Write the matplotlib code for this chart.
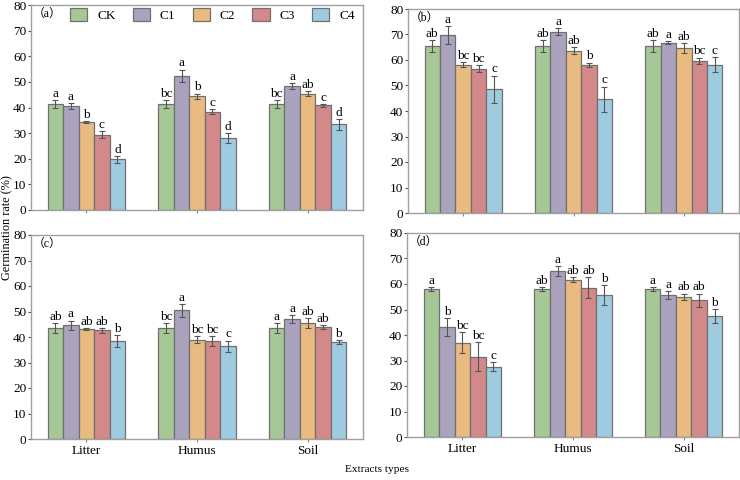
import matplotlib
matplotlib.use("Agg")
import matplotlib.pyplot as plt
import numpy as np
from matplotlib.patches import Patch

plt.rcParams['font.family'] = ['Liberation Serif', 'Noto Sans CJK SC', 'DejaVu Sans']

groups = ["Litter", "Humus", "Soil"]
treatments = ["CK", "C1", "C2", "C3", "C4"]
colors = ["#a6c896", "#aba2be", "#e9bb80", "#d3888a", "#9fcbe0"]

# values[treatment][group]
a_vals = [[41.4, 41.4, 41.4], [40.6, 52.3, 48.4], [34.3, 44.4, 45.4], [29.4, 38.4, 40.8], [19.8, 28.0, 33.4]]
a_err = [[1.5, 1.5, 1.5], [1.0, 2.5, 1.2], [0.5, 1.0, 1.0], [1.3, 1.0, 0.5], [1.3, 2.0, 2.0]]
a_let = [["a", "bc", "bc"], ["a", "a", "a"], ["b", "b", "ab"], ["c", "c", "c"], ["d", "d", "d"]]

b_vals = [[65.6, 65.6, 65.6], [69.7, 71.1, 66.7], [58.2, 63.7, 64.6], [56.6, 58.2, 59.6], [48.6, 44.6, 58.2]]
b_err = [[2.3, 2.3, 2.3], [3.5, 1.3, 0.6], [1.0, 1.3, 2.0], [1.5, 0.8, 1.3], [5.3, 5.0, 3.0]]
b_let = [["ab", "ab", "ab"], ["a", "a", "a"], ["bc", "ab", "ab"], ["bc", "b", "bc"], ["c", "c", "c"]]

c_vals = [[43.5, 43.5, 43.5], [44.6, 50.5, 47.0], [43.1, 39.0, 45.4], [42.6, 38.4, 43.9], [38.4, 36.4, 38.0]]
c_err = [[2.0, 2.0, 2.0], [1.8, 2.5, 1.6], [0.5, 1.3, 2.0], [1.0, 2.0, 0.8], [2.3, 2.2, 0.7]]
c_let = [["ab", "bc", "a"], ["a", "a", "a"], ["ab", "bc", "ab"], ["ab", "bc", "ab"], ["b", "c", "b"]]

d_vals = [[58.0, 58.0, 58.0], [43.1, 65.1, 55.6], [37.0, 61.6, 55.0], [31.5, 58.6, 53.6], [27.5, 55.7, 47.5]]
d_err = [[0.8, 0.8, 0.8], [3.6, 2.0, 1.6], [4.2, 1.0, 1.2], [5.8, 4.1, 2.6], [1.8, 3.9, 2.7]]
d_let = [["a", "ab", "a"], ["b", "a", "a"], ["bc", "ab", "ab"], ["bc", "ab", "ab"], ["c", "b", "b"]]

panels = [
    ("（a）", a_vals, a_err, a_let, [31, 5, 363, 210], False),
    ("（b）", b_vals, b_err, b_let, [408, 9, 739, 213], False),
    ("（c）", c_vals, c_err, c_let, [31, 235, 363, 439], True),
    ("（d）", d_vals, d_err, d_let, [407, 233, 739, 437], True),
]

W, H = 740, 480
fig = plt.figure(figsize=(W / 100, H / 100), dpi=100)
spine_col = "#a0a0a0"
edge_col = "#707070"
bw = 0.14
x = np.arange(len(groups))
fs = 9.5

axes = []
for label, vals, errs, lets, (l, t, r, b), show_x in panels:
    ax = fig.add_axes([l / W, 1 - b / H, (r - l) / W, (b - t) / H])
    axes.append(ax)
    for i in range(len(treatments)):
        xs = x + (i - 2) * bw
        ax.bar(xs, vals[i], width=bw, color=colors[i], edgecolor=edge_col,
               linewidth=0.9, label=treatments[i], zorder=2)
        ax.errorbar(xs, vals[i], yerr=errs[i], fmt='none', ecolor="#555555",
                    elinewidth=0.8, capsize=2, capthick=0.8, zorder=3)
        for j in range(len(groups)):
            ax.text(xs[j], vals[i][j] + errs[i][j] + 0.1, lets[i][j],
                    ha='center', va='bottom', fontsize=fs)
    ax.set_xlim(-0.5, 2.5)
    ax.set_ylim(0, 80)
    ax.set_yticks(np.arange(0, 81, 10))
    ax.set_xticks(x)
    if show_x:
        ax.set_xticklabels(groups, fontsize=fs)
    else:
        ax.set_xticklabels([])
    ax.tick_params(axis='y', labelsize=fs, direction='out', length=2.5,
                   color="#555555", pad=0.8)
    ax.tick_params(axis='x', direction='out', length=2, color="#888888", pad=2.5)
    for s in ax.spines.values():
        s.set_color(spine_col)
        s.set_linewidth(1.0)
    ax.text(0.006, 0.985, label, transform=ax.transAxes, ha='left', va='top', fontsize=8.5)

handles = [Patch(facecolor=colors[i], edgecolor=edge_col, linewidth=0.9) for i in range(5)]
axes[0].legend(handles, treatments, loc='upper left', bbox_to_anchor=(0.118, 0.985),
               ncol=5, frameon=False, fontsize=fs, handlelength=1.3, handleheight=1.1,
               columnspacing=1.3, handletextpad=0.75, borderaxespad=0, borderpad=0)

fig.text(7 / W, 1 - 228 / H, "Germination rate (%)", rotation=90, ha='center',
         va='center', fontsize=8.8)
fig.text(377 / W, 1 - 470 / H, "Extracts types", ha='center', va='center', fontsize=8.2)

fig.savefig("out.png", dpi=100)
